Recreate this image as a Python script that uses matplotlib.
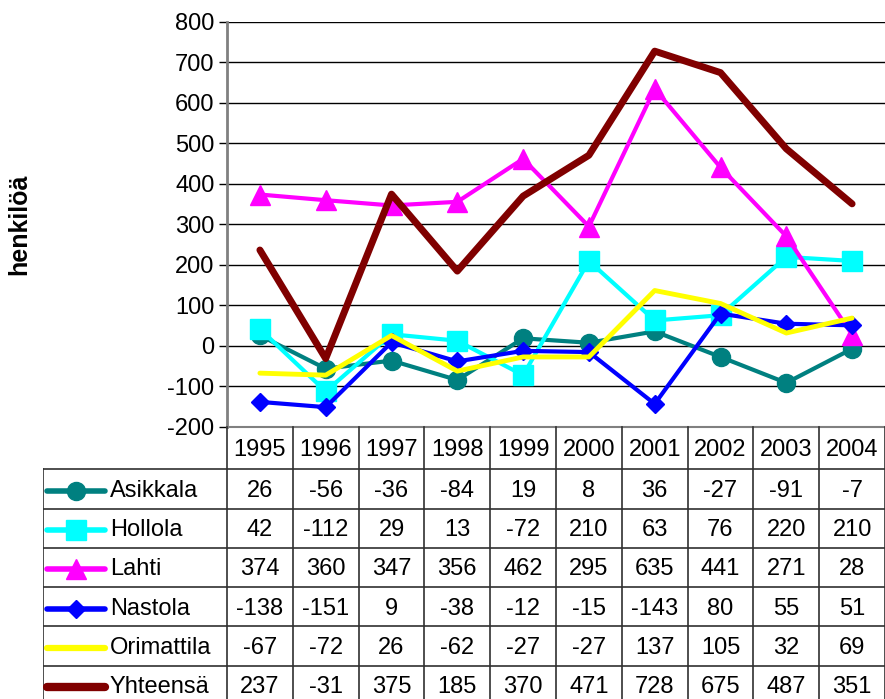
import matplotlib
matplotlib.use("Agg")
import matplotlib.pyplot as plt
import numpy as np

plt.rcParams["font.family"] = ["Liberation Sans", "DejaVu Sans"]
plt.rcParams["axes.unicode_minus"] = False

years = ["1995", "1996", "1997", "1998", "1999", "2000", "2001", "2002", "2003", "2004"]
names = ["Asikkala", "Hollola", "Lahti", "Nastola", "Orimattila", "Yhteensä"]
asikkala = [26, -56, -36, -84, 19, 8, 36, -27, -91, -7]
hollola = [42, -112, 29, 13, -72, 210, 63, 76, 220, 210]
lahti = [374, 360, 347, 356, 462, 295, 635, 441, 271, 28]
nastola = [-138, -151, 9, -38, -12, -15, -143, 80, 55, 51]
orimattila = [-67, -72, 26, -62, -27, -27, 137, 105, 32, 69]
yhteensa = [237, -31, 375, 185, 370, 471, 728, 675, 487, 351]
series = [asikkala, hollola, lahti, nastola, orimattila, yhteensa]

colors = ["#008080", "#00ffff", "#ff00ff", "#0000ff", "#ffff00", "#800000"]
markers = ["o", "s", "^", "D", None, None]
msizes = [13, 14.5, 15, 9.2, 0, 0]
lwidths = [3, 3, 3, 3, 3.5, 5]

W, H = 885, 699
fig = plt.figure(figsize=(W / 100, H / 100), dpi=100)

# plot area in pixels
pl, pr, pt, pb = 227, 885, 22, 427
ax = fig.add_axes([pl / W, 1 - pb / H, (pr - pl) / W, (pb - pt) / H])

x = np.arange(len(years))
for vals, c, m, ms, lw in zip(series, colors, markers, msizes, lwidths):
    ax.plot(x, vals, color=c, marker=m, markersize=ms, linewidth=lw,
            solid_capstyle="round", clip_on=False, zorder=3)

ax.set_xlim(-0.5, len(years) - 0.5)
ax.set_ylim(-200, 800)
ax.set_yticks(range(-200, 801, 100))
ax.set_xticks([])
ax.grid(axis="y", color="black", linewidth=1)
ax.set_axisbelow(True)
for s in ["top", "right"]:
    ax.spines[s].set_visible(False)
ax.spines["left"].set_color("#808080")
ax.spines["left"].set_linewidth(2)
ax.spines["bottom"].set_color("#808080")
ax.spines["bottom"].set_linewidth(1.5)
ax.tick_params(axis="y", labelsize=17, length=6, width=1, direction="out", pad=3)
fig.text(19 / W, 1 - 224 / H, "henkilöä", rotation=90, fontsize=18,
         fontweight="bold", ha="center", va="center")

# data table below the plot
colw = (pr - pl) / len(years)
tl = 43
legw = (pl - tl) / colw
hdr = 1.08
nrow_vis = hdr + 5 + 0.85
axt = fig.add_axes([tl / W, 0, (W - tl) / W, (H - pb) / H])
axt.set_xlim(-0.5 - legw, len(years) - 0.5)
axt.set_ylim(nrow_vis, 0)
axt.axis("off")

lc = "#303030"
for k in range(len(years) + 1):
    axt.plot([k - 0.5, k - 0.5], [0, nrow_vis], color=lc, lw=1.2, clip_on=False)
axt.plot([-0.5 - legw, -0.5 - legw], [hdr, nrow_vis], color=lc, lw=1.2)
for i in range(len(names)):
    axt.plot([-0.5 - legw, len(years) - 0.5], [hdr + i, hdr + i], color=lc, lw=1.2)

for j, yr in enumerate(years):
    axt.text(j, hdr / 2 + 0.05, yr, ha="center", va="center", fontsize=17)

for i, (nm, vals, c, m, ms, lw) in enumerate(zip(names, series, colors, markers, msizes, lwidths)):
    yc = hdr + i + 0.55
    x0 = -0.5 - legw + (47 - tl) / colw
    x1 = -0.5 - legw + (105 - tl) / colw
    axt.plot([x0, x1], [yc, yc], color=c, lw=lw + 1, solid_capstyle="round")
    if m:
        axt.plot([(x0 + x1) / 2], [yc], color=c, marker=m, markersize=ms)
    axt.text(-0.5 - legw + (110 - tl) / colw, yc, nm, ha="left", va="center", fontsize=17)
    for j, v in enumerate(vals):
        axt.text(j, yc, str(v), ha="center", va="center", fontsize=17)

fig.savefig("out.png", dpi=100)
